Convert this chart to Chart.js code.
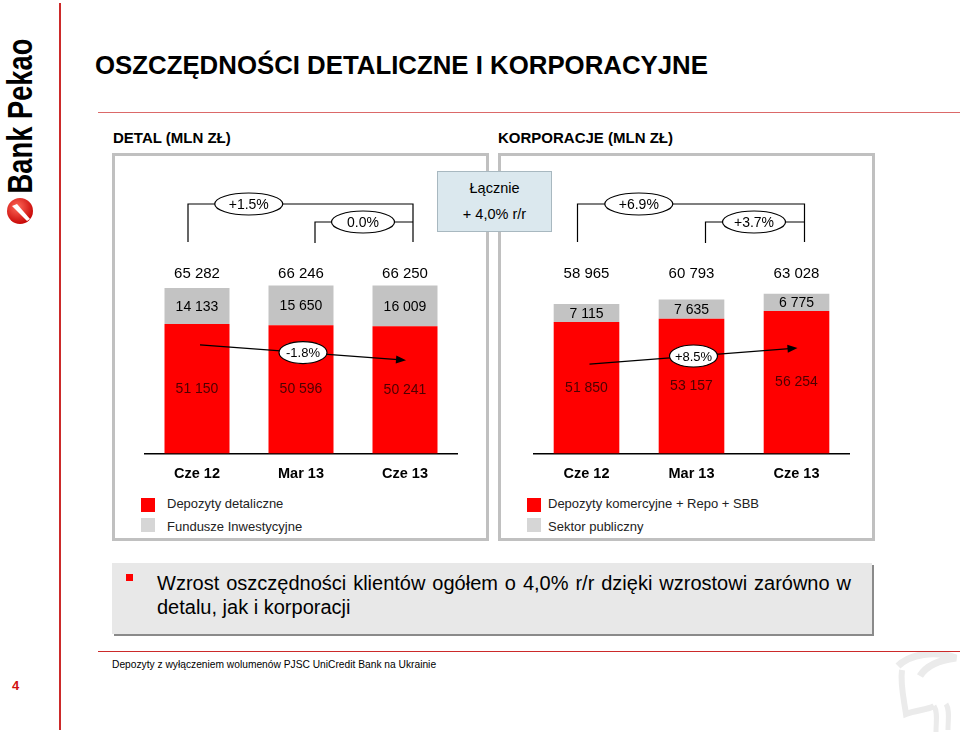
<!DOCTYPE html>
<html lang="pl">
<head>
<meta charset="UTF-8">
<title>Oszczędności detaliczne i korporacyjne</title>
<script src="https://cdn.jsdelivr.net/npm/chart.js@4"></script>
<style>
  body { margin: 0; width: 960px; height: 734px; position: relative; overflow: hidden; background: #fff;
         font-family: 'Liberation Sans', Arial, sans-serif; color: #000; }
  .abs { position: absolute; }
  .linia { position: absolute; background: #cc2a2a; }
  .panel { position: absolute; top: 153px; width: 377px; height: 388px; box-sizing: border-box; border: 3px solid #c0c0c0; }
  .naglowek { position: absolute; top: 129px; font-size: 15px; font-weight: bold; white-space: nowrap; }
  .kw { position: absolute; width: 14px; height: 14px; }
  .leg { position: absolute; font-size: 13px; line-height: 16px; color: #222; white-space: nowrap; }
</style>
</head>
<body>

<!-- logo -->
<div class="abs" style="left:19px;top:116px;transform:translate(-50%,-50%) rotate(-90deg) scaleX(0.78);font-size:35px;font-weight:bold;line-height:1;white-space:nowrap;">Bank Pekao</div>
<svg class="abs" style="left:6px;top:197px" width="28" height="28" viewBox="0 0 28 28">
  <defs>
    <radialGradient id="g" cx="0.4" cy="0.35" r="0.7">
      <stop offset="0" stop-color="#ff6a5a"/>
      <stop offset="1" stop-color="#c40000"/>
    </radialGradient>
  </defs>
  <circle cx="14" cy="14" r="13" fill="url(#g)"/>
  <path d="M6 9 L11 7 L24 22 L21 24 Z" fill="#fff"/>
</svg>
<div class="linia" style="left:59px;top:3px;width:2px;height:727px"></div>

<!-- tytul -->
<div class="abs" style="left:95px;top:51px;font-size:25.8px;font-weight:bold;white-space:nowrap;">OSZCZĘDNOŚCI DETALICZNE I KORPORACYJNE</div>
<div class="linia" style="left:98px;top:112px;width:862px;height:1px;opacity:0.7"></div>

<div class="naglowek" style="left:113px">DETAL (MLN ZŁ)</div>
<div class="naglowek" style="left:498px">KORPORACJE (MLN ZŁ)</div>

<div class="panel" style="left:112px"></div>
<div class="panel" style="left:498px"></div>

<canvas id="wykresDetal" width="372" height="337" class="abs" style="left:115px;top:158px"></canvas>
<canvas id="wykresKorp" width="372" height="337" class="abs" style="left:501px;top:158px"></canvas>

<div class="abs" style="left:437px;top:171px;width:115px;height:61px;box-sizing:border-box;background:#dbe8ee;border:1px solid #a8b8c0;text-align:center;font-size:14.5px;">
  <div style="position:absolute;left:0;right:0;top:8px">Łącznie</div>
  <div style="position:absolute;left:0;right:0;top:34px">+ 4,0% r/r</div>
</div>

<!-- legendy -->
<div class="kw" style="left:141px;top:498px;background:#ff0000"></div>
<div class="leg" style="left:167px;top:496px">Depozyty detaliczne</div>
<div class="kw" style="left:141px;top:518px;background:#d6d6d6"></div>
<div class="leg" style="left:167px;top:519px">Fundusze Inwestycyjne</div>
<div class="kw" style="left:527px;top:498px;background:#ff0000"></div>
<div class="leg" style="left:548px;top:496px">Depozyty komercyjne + Repo + SBB</div>
<div class="kw" style="left:527px;top:518px;background:#d6d6d6"></div>
<div class="leg" style="left:548px;top:519px">Sektor publiczny</div>

<!-- komentarz -->
<div class="abs" style="left:112px;top:563px;width:760px;height:71px;background:#e8e8e8;box-shadow:2px 2px 0 #8a8a8a;"></div>
<div class="abs" style="left:126px;top:574px;width:7px;height:7px;background:#ff0000"></div>
<div class="abs" style="left:157px;top:571px;width:694px;font-size:20px;line-height:24px;">
  <div style="text-align:justify;text-align-last:justify;white-space:nowrap">Wzrost oszczędności klientów ogółem o 4,0% r/r dzięki wzrostowi zarówno w</div>
  <div>detalu, jak i korporacji</div>
</div>

<div class="linia" style="left:98px;top:651px;width:862px;height:1px"></div>
<div class="abs" style="left:112px;top:658px;font-size:11px;white-space:nowrap;transform:scaleX(0.93);transform-origin:0 0;">Depozyty z wyłączeniem wolumenów PJSC UniCredit Bank na Ukrainie</div>
<div class="abs" style="left:12px;top:678px;font-size:13px;font-weight:bold;color:#d01010;">4</div>

<svg class="abs" style="left:890px;top:652px" width="70" height="82" viewBox="0 0 70 82">
  <path d="M8 14 C20 2 45 -2 66 6 C50 8 36 14 30 24" fill="none" stroke="#ebebeb" stroke-width="7"/>
  <path d="M12 18 C10 32 14 48 16 62 C26 58 38 58 44 54" fill="none" stroke="#ebebeb" stroke-width="6"/>
  <path d="M44 54 C48 60 46 70 46 80 M56 52 C60 58 58 68 58 78" fill="none" stroke="#ebebeb" stroke-width="5"/>
</svg>

<script>
  const kategorie = ['Cze 12', 'Mar 13', 'Cze 13'];

  const detalDepozyty = [51150, 50596, 50241];
  const detalFundusze = [14133, 15650, 16009];
  const detalRazem = [65282, 66246, 66250];
  const detalZmiany = ['+1.5%', '0.0%', '-1.8%'];

  const korpDepozyty = [51850, 53157, 56254];
  const korpSektor = [7115, 7635, 6775];
  const korpRazem = [58965, 60793, 63028];
  const korpZmiany = ['+6.9%', '+3.7%', '+8.5%'];

  const CZERWONY = '#ff0000';
  const SZARY = '#c3c3c3';
  const FONT = "'Liberation Sans', Arial, sans-serif";

  function formatuj(v) {
    return String(v).replace(/\B(?=(\d{3})+(?!\d))/g, ' ');
  }

  function elipsa(ctx, x, y, w, h, tekst, rozmiar) {
    ctx.save();
    ctx.beginPath();
    ctx.ellipse(x, y, w / 2, h / 2, 0, 0, Math.PI * 2);
    ctx.fillStyle = '#fff';
    ctx.fill();
    ctx.lineWidth = 1.2;
    ctx.strokeStyle = '#000';
    ctx.stroke();
    ctx.fillStyle = '#000';
    ctx.font = rozmiar + 'px ' + FONT;
    ctx.textAlign = 'center';
    ctx.textBaseline = 'middle';
    ctx.fillText(tekst, x, y + 1);
    ctx.restore();
  }

  // etykiety wartosci, klamry ze zmianami i strzalka
  const opisy = {
    id: 'opisy',
    afterDatasetsDraw(chart, args, o) {
      const ctx = chart.ctx;
      const top = chart.chartArea.top;
      const dol = chart.getDatasetMeta(0).data;
      const gora = chart.getDatasetMeta(1).data;
      const d0 = chart.data.datasets[0].data;
      const d1 = chart.data.datasets[1].data;

      ctx.save();
      ctx.textAlign = 'center';
      ctx.textBaseline = 'middle';
      dol.forEach(function (bar, i) {
        ctx.font = '14px ' + FONT;
        ctx.fillStyle = '#4d0000';
        ctx.fillText(formatuj(d0[i]), bar.x, (bar.y + bar.base) / 2);
        const g = gora[i];
        ctx.fillStyle = '#000';
        ctx.fillText(formatuj(d1[i]), g.x, (g.y + g.base) / 2 + 1);
        ctx.font = '15px ' + FONT;
        ctx.fillText(formatuj(o.sumy[i]), bar.x, top + 74);
      });

      ctx.strokeStyle = '#000';
      ctx.lineWidth = 1.2;
      const xl = dol[0].x - 9, xs = dol[1].x + 14, xp = dol[2].x + 8;
      ctx.beginPath();
      ctx.moveTo(xl, top + 42);
      ctx.lineTo(xl, top + 4);
      ctx.lineTo(xp, top + 4);
      ctx.lineTo(xp, top + 42);
      ctx.moveTo(xs, top + 43);
      ctx.lineTo(xs, top + 22);
      ctx.lineTo(xp, top + 22);
      ctx.stroke();
      elipsa(ctx, xl + (xp - xl) * 0.27, top + 4, 68, 22, o.zmiany[0], 14);
      elipsa(ctx, xs + (xp - xs) * 0.49, top + 22, 63, 22, o.zmiany[1], 14);

      const x0 = dol[0].x + 3, y0 = dol[0].y + o.strzalka[0];
      const x1 = dol[2].x + 1, y1 = dol[2].y + o.strzalka[1];
      const a = Math.atan2(y1 - y0, x1 - x0);
      ctx.beginPath();
      ctx.moveTo(x0, y0);
      ctx.lineTo(x1 - 8 * Math.cos(a), y1 - 8 * Math.sin(a));
      ctx.stroke();
      ctx.beginPath();
      ctx.moveTo(x1, y1);
      ctx.lineTo(x1 - 10 * Math.cos(a) + 4 * Math.sin(a), y1 - 10 * Math.sin(a) - 4 * Math.cos(a));
      ctx.lineTo(x1 - 10 * Math.cos(a) - 4 * Math.sin(a), y1 - 10 * Math.sin(a) + 4 * Math.cos(a));
      ctx.closePath();
      ctx.fillStyle = '#000';
      ctx.fill();
      elipsa(ctx, (x0 + x1) / 2, (y0 + y1) / 2, 48, 22, o.zmiany[2], 13);
      ctx.restore();
    }
  };

  function wykres(id, dolne, gorne, nazwy, sumy, zmiany, strzalka, padL, padR) {
    return new Chart(document.getElementById(id), {
      type: 'bar',
      data: {
        labels: kategorie,
        datasets: [
          { label: nazwy[0], data: dolne, backgroundColor: CZERWONY },
          { label: nazwy[1], data: gorne, backgroundColor: SZARY }
        ]
      },
      options: {
        responsive: false,
        animation: false,
        layout: { padding: { left: padL, right: padR, top: 42, bottom: 0 } },
        datasets: { bar: { categoryPercentage: 1, barPercentage: 0.625 } },
        plugins: {
          legend: { display: false },
          tooltip: { enabled: false },
          opisy: { sumy: sumy, zmiany: zmiany, strzalka: strzalka }
        },
        scales: {
          x: {
            stacked: true,
            grid: { display: true, drawOnChartArea: false, drawTicks: false },
            border: { color: '#000', width: 1.5 },
            ticks: { color: '#000', padding: 12, font: { family: FONT, size: 14.5, weight: 'bold' } }
          },
          y: { stacked: true, display: false, min: 0, max: 100000 }
        }
      },
      plugins: [opisy]
    });
  }

  wykres('wykresDetal', detalDepozyty, detalFundusze,
    ['Depozyty detaliczne', 'Fundusze Inwestycyjne'], detalRazem, detalZmiany, [21, 34], 30, 30);
  wykres('wykresKorp', korpDepozyty, korpSektor,
    ['Depozyty komercyjne + Repo + SBB', 'Sektor publiczny'], korpRazem, korpZmiany, [42, 37], 33, 24);
</script>
</body>
</html>
